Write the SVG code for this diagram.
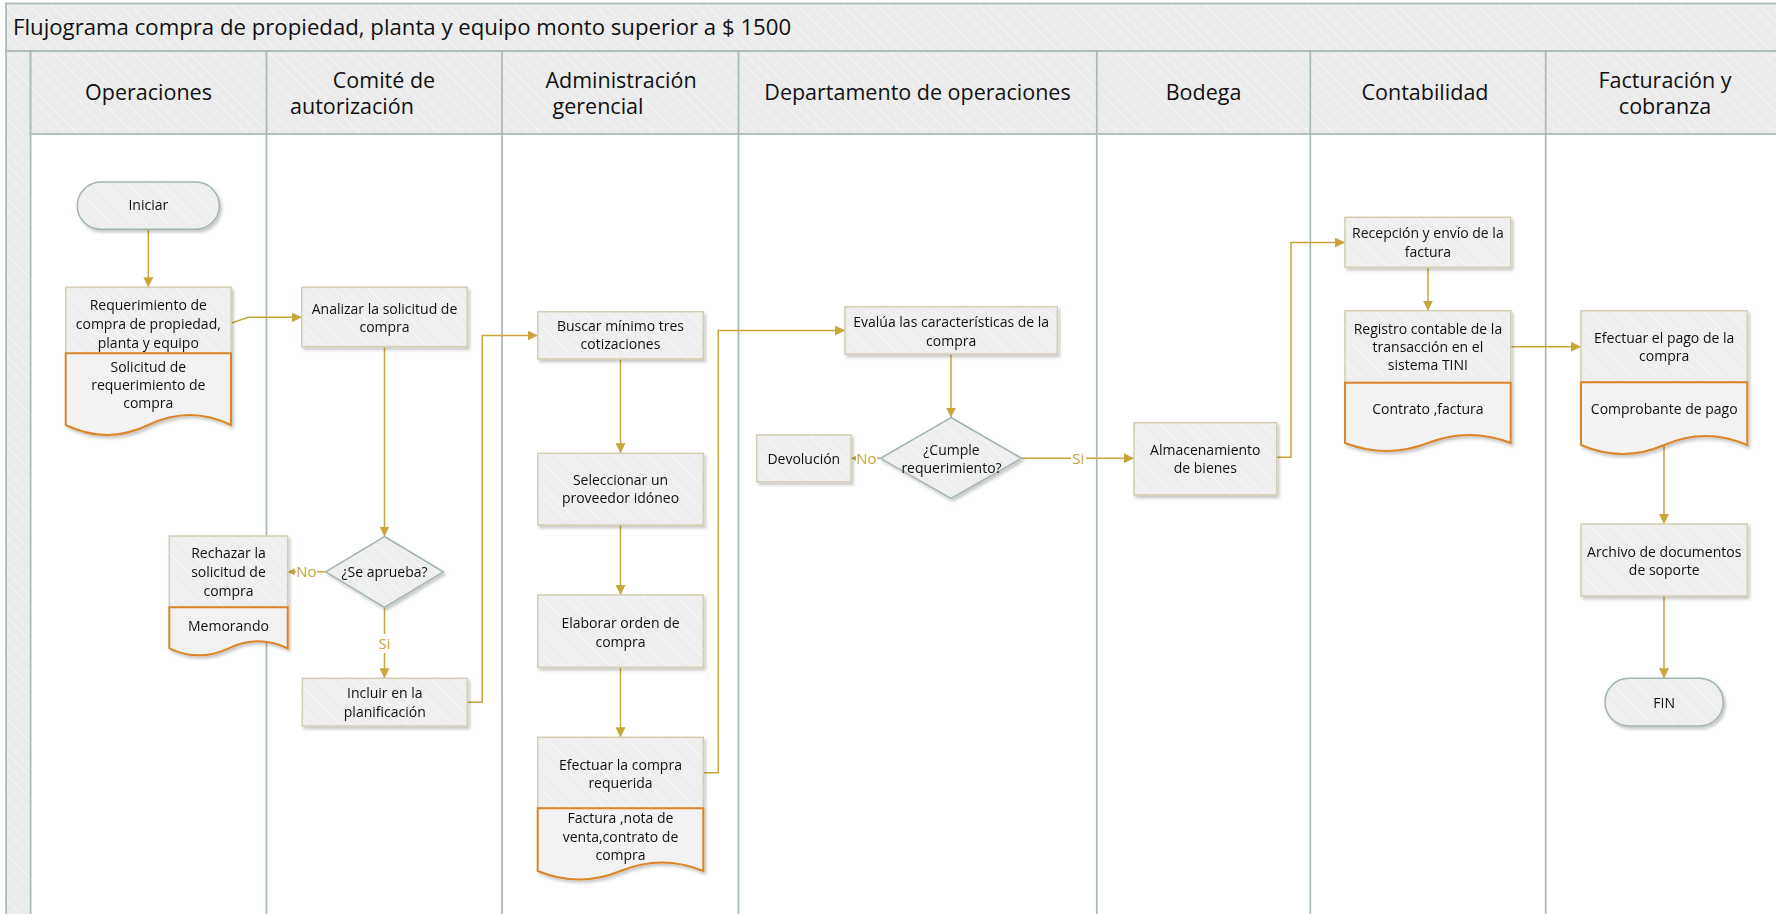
<svg xmlns="http://www.w3.org/2000/svg" width="1776" height="914" viewBox="0 0 1776 914">
  <defs>
    <pattern id="hatch" width="8" height="8" patternUnits="userSpaceOnUse" patternTransform="rotate(-45)">
      <rect width="8" height="8" fill="#ebebeb"/>
      <line x1="0" y1="0" x2="0" y2="8" stroke="#f4f4f4" stroke-width="2"/>
    </pattern>
    <pattern id="hatchLight" width="8" height="8" patternUnits="userSpaceOnUse" patternTransform="rotate(-45)">
      <rect width="8" height="8" fill="#eeeeee"/>
      <line x1="0" y1="0" x2="0" y2="8" stroke="#f6f6f6" stroke-width="2"/>
    </pattern>
    <filter id="shadow" x="-10%" y="-10%" width="130%" height="140%">
      <feDropShadow dx="2" dy="2.5" stdDeviation="1.5" flood-color="#000" flood-opacity="0.22"/>
    </filter>
    <marker id="arrow" viewBox="0 0 10 10" refX="10" refY="5" markerWidth="10" markerHeight="10" markerUnits="userSpaceOnUse" orient="auto">
      <path d="M0,0 L10,5 L0,10 Z" fill="#c9a53b"/>
    </marker>
    <marker id="arrowSmall" viewBox="0 0 10 10" refX="10" refY="5" markerWidth="7" markerHeight="7" markerUnits="userSpaceOnUse" orient="auto">
      <path d="M0,0 L10,5 L0,10 Z" fill="#c9a53b"/>
    </marker>
  </defs>
  <style>
    .frame { fill: url(#hatch); stroke: #a8bcb5; stroke-width: 1.75; }
    .lane { fill: none; stroke: #a8bcb5; stroke-width: 1.75; }
    .title { font-family: "Open Sans", "Noto Sans", sans-serif; font-size: 22.2px; fill: #111; }
    .head { font-family: "Open Sans", "Noto Sans", sans-serif; font-size: 21.5px; fill: #111; text-anchor: middle; }
    .proc { fill: url(#hatchLight); stroke: #d4cdb1; stroke-width: 1.5; }
    .term { fill: url(#hatchLight); stroke: #9fb7ae; stroke-width: 1.5; }
    .doc { fill: #f2f2f2; stroke: #d9862b; stroke-width: 2; }
    .t { font-family: "Open Sans", "Noto Sans", sans-serif; font-size: 14px; fill: #111; text-anchor: middle; }
    .conn { fill: none; stroke: #c9a53b; stroke-width: 1.5; }
    .lbl { font-family: "Open Sans", "Noto Sans", sans-serif; font-size: 15px; fill: #c9a53b; text-anchor: middle; }
    .lblbg { fill: #ffffff; }
    .node { filter: url(#shadow); }
  </style>

  <rect width="1776" height="914" fill="#ffffff"/>

  <!-- swimlane frame -->
  <g id="pool">
    <rect class="frame" x="6" y="3.5" width="1790" height="47.5"/>
    <text class="title" x="13" y="35">Flujograma compra de propiedad, planta y equipo monto superior a $ 1500</text>
    <rect class="frame" x="6" y="51" width="24.6" height="880"/>
    <rect class="frame" x="30.6" y="51" width="1770" height="83"/>
    <line class="lane" x1="266.5" y1="51" x2="266.5" y2="914"/>
    <line class="lane" x1="502" y1="51" x2="502" y2="914"/>
    <line class="lane" x1="738.5" y1="51" x2="738.5" y2="914"/>
    <line class="lane" x1="1096.8" y1="51" x2="1096.8" y2="914"/>
    <line class="lane" x1="1310.3" y1="51" x2="1310.3" y2="914"/>
    <line class="lane" x1="1545.7" y1="51" x2="1545.7" y2="914"/>
    <text class="head" x="148.5" y="100">Operaciones</text>
    <text class="head" x="384" y="87.5">Comité de</text>
    <text class="head" x="352" y="113.5">autorización</text>
    <text class="head" x="621" y="87.5">Administración</text>
    <text class="head" x="598" y="113.5">gerencial</text>
    <text class="head" x="917.5" y="100">Departamento de operaciones</text>
    <text class="head" x="1203.5" y="100">Bodega</text>
    <text class="head" x="1425" y="100">Contabilidad</text>
    <text class="head" x="1665" y="87.5">Facturación y</text>
    <text class="head" x="1665" y="113.5">cobranza</text>
  </g>

  <!-- connectors -->
  <g id="connectors">
    <path class="conn" d="M148.3,229.3 V287.3" marker-end="url(#arrow)"/>
    <path class="conn" d="M231,323.3 L248.3,317.3 H301.7" marker-end="url(#arrow)"/>
    <path class="conn" d="M384.5,346.7 V536.5" marker-end="url(#arrow)"/>
    <path class="conn" d="M325.7,571.8 H287.7" marker-end="url(#arrowSmall)"/>
    <path class="conn" d="M384.5,607.5 V678.3" marker-end="url(#arrow)"/>
    <path class="conn" d="M467.3,702.3 H482.3 V335.5 H537.7" marker-end="url(#arrow)"/>
    <path class="conn" d="M620.5,359 V453.3" marker-end="url(#arrow)"/>
    <path class="conn" d="M620.5,525 V595" marker-end="url(#arrow)"/>
    <path class="conn" d="M620.5,667.3 V737.3" marker-end="url(#arrow)"/>
    <path class="conn" d="M703.3,772.7 H718.3 V330.5 H845" marker-end="url(#arrow)"/>
    <path class="conn" d="M951,354 V417.5" marker-end="url(#arrow)"/>
    <path class="conn" d="M880.5,458.3 H851" marker-end="url(#arrowSmall)"/>
    <path class="conn" d="M1021.5,458.3 H1134" marker-end="url(#arrow)"/>
    <path class="conn" d="M1276.7,457.3 H1291 V242.5 H1345" marker-end="url(#arrow)"/>
    <path class="conn" d="M1428,267.3 V310.7" marker-end="url(#arrow)"/>
    <path class="conn" d="M1510.7,346.7 H1581" marker-end="url(#arrow)"/>
    <path class="conn" d="M1664,445 V524" marker-end="url(#arrow)"/>
    <path class="conn" d="M1664,596 V678.3" marker-end="url(#arrow)"/>
    <!-- branch labels -->
    <rect class="lblbg" x="296" y="562" width="21" height="19"/>
    <text class="lbl" x="306.5" y="577">No</text>
    <rect class="lblbg" x="377" y="634" width="15" height="19"/>
    <text class="lbl" x="384.5" y="649">Si</text>
    <rect class="lblbg" x="856" y="449" width="21" height="19"/>
    <text class="lbl" x="866.5" y="464">No</text>
    <rect class="lblbg" x="1071" y="449" width="15" height="19"/>
    <text class="lbl" x="1078.3" y="464">Si</text>
  </g>

  <g id="n-iniciar" class="node">
    <rect class="term" x="77.3" y="182" width="142" height="47.3" rx="23.6"/>
    <text class="t" x="148.3" y="210">Iniciar</text>
  </g>

  <g id="n-requerimiento" class="node">
    <rect class="proc" x="65.7" y="287.3" width="165.3" height="66"/>
    <path class="doc" d="M65.7,353.3 H231 V425 Q189.7,405 148.35,425 T65.7,425 Z"/>
    <text class="t" x="148.3" y="310">Requerimiento de</text>
    <text class="t" x="148.3" y="329.3">compra de propiedad,</text>
    <text class="t" x="148.3" y="347.7">planta y equipo</text>
    <text class="t" x="148.3" y="372.3">Solicitud de</text>
    <text class="t" x="148.3" y="390">requerimiento de</text>
    <text class="t" x="148.3" y="408.3">compra</text>
  </g>

  <g id="n-analizar" class="node">
    <rect class="proc" x="301.7" y="287.3" width="165.6" height="59.4"/>
    <text class="t" x="384.5" y="314.3">Analizar la solicitud de</text>
    <text class="t" x="384.5" y="332.3">compra</text>
  </g>

  <g id="n-seaprueba" class="node">
    <path class="term" d="M384.5,536.5 L443.3,571.8 L384.5,607.3 L325.7,571.8 Z"/>
    <text class="t" x="384.5" y="577">¿Se aprueba?</text>
  </g>

  <g id="n-rechazar" class="node">
    <rect class="proc" x="169.3" y="536" width="118.4" height="71.3"/>
    <path class="doc" d="M169.3,607.3 H287.7 V648.3 Q258.1,634.3 228.5,648.3 T169.3,648.3 Z"/>
    <text class="t" x="228.5" y="558.3">Rechazar la</text>
    <text class="t" x="228.5" y="577">solicitud de</text>
    <text class="t" x="228.5" y="595.7">compra</text>
    <text class="t" x="228.5" y="631">Memorando</text>
  </g>

  <g id="n-incluir" class="node">
    <rect class="proc" x="302.3" y="678.3" width="165" height="47.7"/>
    <text class="t" x="384.8" y="698.3">Incluir en la</text>
    <text class="t" x="384.8" y="717">planificación</text>
  </g>

  <g id="n-buscar" class="node">
    <rect class="proc" x="537.7" y="311.7" width="165.6" height="47.3"/>
    <text class="t" x="620.5" y="331">Buscar mínimo tres</text>
    <text class="t" x="620.5" y="349">cotizaciones</text>
  </g>

  <g id="n-seleccionar" class="node">
    <rect class="proc" x="537.7" y="453.3" width="165.6" height="71.7"/>
    <text class="t" x="620.5" y="485">Seleccionar un</text>
    <text class="t" x="620.5" y="503.3">proveedor idóneo</text>
  </g>

  <g id="n-elaborar" class="node">
    <rect class="proc" x="537.7" y="595" width="165.6" height="72.3"/>
    <text class="t" x="620.5" y="628.3">Elaborar orden de</text>
    <text class="t" x="620.5" y="646.7">compra</text>
  </g>

  <g id="n-efectuarcompra" class="node">
    <rect class="proc" x="537.7" y="737.3" width="165.6" height="71"/>
    <path class="doc" d="M537.7,808.3 H703.3 V871 Q661.9,854 620.5,871 T537.7,871 Z"/>
    <text class="t" x="620.5" y="770">Efectuar la compra</text>
    <text class="t" x="620.5" y="788.3">requerida</text>
    <text class="t" x="620.5" y="823.3">Factura ,nota de</text>
    <text class="t" x="620.5" y="841.7">venta,contrato de</text>
    <text class="t" x="620.5" y="860">compra</text>
  </g>

  <g id="n-evalua" class="node">
    <rect class="proc" x="845" y="306.7" width="212.3" height="47.3"/>
    <text class="t" x="951.2" y="327.3">Evalúa las características de la</text>
    <text class="t" x="951.2" y="345.7">compra</text>
  </g>

  <g id="n-cumple" class="node">
    <path class="term" d="M951,417.5 L1021.5,458.3 L951,498.3 L880.5,458.3 Z"/>
    <text class="t" x="951.5" y="455">¿Cumple</text>
    <text class="t" x="951.5" y="473.3">requerimiento?</text>
  </g>

  <g id="n-devolucion" class="node">
    <rect class="proc" x="756.7" y="435" width="94.3" height="46.7"/>
    <text class="t" x="803.8" y="464.3">Devolución</text>
  </g>

  <g id="n-almacenamiento" class="node">
    <rect class="proc" x="1134" y="422.7" width="142.7" height="72.3"/>
    <text class="t" x="1205.3" y="455">Almacenamiento</text>
    <text class="t" x="1205.3" y="473.4">de bienes</text>
  </g>

  <g id="n-recepcion" class="node">
    <rect class="proc" x="1345" y="217.3" width="165.7" height="50"/>
    <text class="t" x="1427.9" y="238.3">Recepción y envío de la</text>
    <text class="t" x="1427.9" y="256.7">factura</text>
  </g>

  <g id="n-registro" class="node">
    <rect class="proc" x="1345" y="310.7" width="165.7" height="72"/>
    <path class="doc" d="M1345,382.7 H1510.7 V443 Q1469.3,427 1427.9,443 T1345,443 Z"/>
    <text class="t" x="1427.9" y="334.3">Registro contable de la</text>
    <text class="t" x="1427.9" y="351.7">transacción en el</text>
    <text class="t" x="1427.9" y="370">sistema TINI</text>
    <text class="t" x="1427.9" y="414.3">Contrato ,factura</text>
  </g>

  <g id="n-efectuarpago" class="node">
    <rect class="proc" x="1581" y="310.7" width="166.3" height="71.6"/>
    <path class="doc" d="M1581,382.3 H1747.3 V445 Q1705.7,427 1664.2,445 T1581,445 Z"/>
    <text class="t" x="1664.2" y="343.3">Efectuar el pago de la</text>
    <text class="t" x="1664.2" y="361">compra</text>
    <text class="t" x="1664.2" y="414.3">Comprobante de pago</text>
  </g>

  <g id="n-archivo" class="node">
    <rect class="proc" x="1581" y="524" width="166.3" height="72"/>
    <text class="t" x="1664.2" y="557.3">Archivo de documentos</text>
    <text class="t" x="1664.2" y="575">de soporte</text>
  </g>

  <g id="n-fin" class="node">
    <rect class="term" x="1605" y="678.3" width="118.3" height="47.7" rx="23.8"/>
    <text class="t" x="1664.2" y="707.7">FIN</text>
  </g>
</svg>
